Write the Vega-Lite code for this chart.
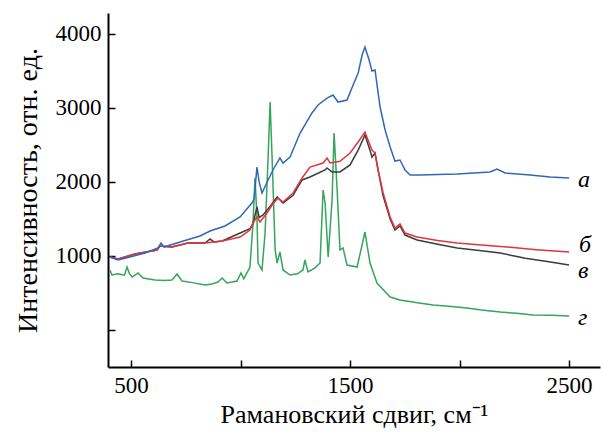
{
  "$schema": "https://vega.github.io/schema/vega-lite/v6.json",
  "width": 492,
  "height": 354,
  "autosize": {"type": "none"},
  "padding": {"left": 108, "top": 13, "right": 1, "bottom": 65},
  "background": "white",
  "config": {
    "view": {"stroke": null},
    "font": "Liberation Serif",
    "axis": {
      "grid": false,
      "domainColor": "black",
      "domainWidth": 2,
      "tickColor": "black",
      "tickWidth": 1.5,
      "tickSize": -7,
      "labelFont": "Liberation Serif",
      "labelFontSize": 23,
      "labelColor": "black",
      "titleFont": "Liberation Serif",
      "titleFontSize": 26,
      "titleFontWeight": "normal",
      "titleColor": "black"
    }
  },
  "datasets": {
    "spectra": [
      {"s": "г", "x": 404, "y": 811}, {"s": "г", "x": 413, "y": 743}, {"s": "г", "x": 440, "y": 760}, {"s": "г", "x": 470, "y": 740}, {"s": "г", "x": 482, "y": 851}, {"s": "г", "x": 493, "y": 760}, {"s": "г", "x": 505, "y": 716}, {"s": "г", "x": 532, "y": 770}, {"s": "г", "x": 555, "y": 702}, {"s": "г", "x": 580, "y": 690}, {"s": "г", "x": 610, "y": 676}, {"s": "г", "x": 650, "y": 670}, {"s": "г", "x": 687, "y": 676}, {"s": "г", "x": 710, "y": 757}, {"s": "г", "x": 733, "y": 662}, {"s": "г", "x": 780, "y": 640}, {"s": "г", "x": 838, "y": 608}, {"s": "г", "x": 870, "y": 620}, {"s": "г", "x": 897, "y": 648}, {"s": "г", "x": 916, "y": 702}, {"s": "г", "x": 938, "y": 635}, {"s": "г", "x": 984, "y": 662}, {"s": "г", "x": 1002, "y": 770}, {"s": "г", "x": 1015, "y": 690}, {"s": "г", "x": 1043, "y": 851}, {"s": "г", "x": 1057, "y": 1446}, {"s": "г", "x": 1066, "y": 2054}, {"s": "г", "x": 1075, "y": 1527}, {"s": "г", "x": 1080, "y": 905}, {"s": "г", "x": 1098, "y": 811}, {"s": "г", "x": 1112, "y": 1310}, {"s": "г", "x": 1126, "y": 2337}, {"s": "г", "x": 1135, "y": 3080}, {"s": "г", "x": 1144, "y": 2337}, {"s": "г", "x": 1158, "y": 1081}, {"s": "г", "x": 1167, "y": 905}, {"s": "г", "x": 1180, "y": 1054}, {"s": "г", "x": 1194, "y": 811}, {"s": "г", "x": 1226, "y": 743}, {"s": "г", "x": 1260, "y": 760}, {"s": "г", "x": 1285, "y": 811}, {"s": "г", "x": 1294, "y": 946}, {"s": "г", "x": 1308, "y": 784}, {"s": "г", "x": 1340, "y": 840}, {"s": "г", "x": 1363, "y": 905}, {"s": "г", "x": 1377, "y": 1891}, {"s": "г", "x": 1386, "y": 1716}, {"s": "г", "x": 1400, "y": 986}, {"s": "г", "x": 1418, "y": 1756}, {"s": "г", "x": 1427, "y": 2661}, {"s": "г", "x": 1441, "y": 1891}, {"s": "г", "x": 1454, "y": 1081}, {"s": "г", "x": 1468, "y": 1108}, {"s": "г", "x": 1486, "y": 878}, {"s": "г", "x": 1532, "y": 851}, {"s": "г", "x": 1555, "y": 1148}, {"s": "г", "x": 1568, "y": 1324}, {"s": "г", "x": 1591, "y": 905}, {"s": "г", "x": 1623, "y": 635}, {"s": "г", "x": 1683, "y": 446}, {"s": "г", "x": 1728, "y": 405}, {"s": "г", "x": 1800, "y": 370}, {"s": "г", "x": 1879, "y": 338}, {"s": "г", "x": 1950, "y": 320}, {"s": "г", "x": 2034, "y": 297}, {"s": "г", "x": 2100, "y": 270}, {"s": "г", "x": 2185, "y": 243}, {"s": "г", "x": 2260, "y": 225}, {"s": "г", "x": 2336, "y": 203}, {"s": "г", "x": 2420, "y": 200}, {"s": "г", "x": 2500, "y": 189},

      {"s": "в", "x": 404, "y": 986}, {"s": "в", "x": 441, "y": 959}, {"s": "в", "x": 518, "y": 1027}, {"s": "в", "x": 619, "y": 1081}, {"s": "в", "x": 632, "y": 1135}, {"s": "в", "x": 687, "y": 1121}, {"s": "в", "x": 760, "y": 1175}, {"s": "в", "x": 838, "y": 1175}, {"s": "в", "x": 861, "y": 1229}, {"s": "в", "x": 880, "y": 1189}, {"s": "в", "x": 916, "y": 1202}, {"s": "в", "x": 998, "y": 1310}, {"s": "в", "x": 1043, "y": 1370}, {"s": "в", "x": 1057, "y": 1432}, {"s": "в", "x": 1075, "y": 1662}, {"s": "в", "x": 1085, "y": 1520}, {"s": "в", "x": 1103, "y": 1554}, {"s": "в", "x": 1140, "y": 1690}, {"s": "в", "x": 1167, "y": 1797}, {"s": "в", "x": 1194, "y": 1716}, {"s": "в", "x": 1240, "y": 1820}, {"s": "в", "x": 1281, "y": 2027}, {"s": "в", "x": 1317, "y": 2067}, {"s": "в", "x": 1386, "y": 2162}, {"s": "в", "x": 1395, "y": 2189}, {"s": "в", "x": 1418, "y": 2135}, {"s": "в", "x": 1454, "y": 2135}, {"s": "в", "x": 1500, "y": 2230}, {"s": "в", "x": 1537, "y": 2430}, {"s": "в", "x": 1568, "y": 2634}, {"s": "в", "x": 1591, "y": 2430}, {"s": "в", "x": 1600, "y": 2337}, {"s": "в", "x": 1614, "y": 2391}, {"s": "в", "x": 1628, "y": 2162}, {"s": "в", "x": 1651, "y": 1810}, {"s": "в", "x": 1683, "y": 1500}, {"s": "в", "x": 1705, "y": 1351}, {"s": "в", "x": 1728, "y": 1405}, {"s": "в", "x": 1751, "y": 1283}, {"s": "в", "x": 1806, "y": 1216}, {"s": "в", "x": 1900, "y": 1160}, {"s": "в", "x": 1989, "y": 1108}, {"s": "в", "x": 2100, "y": 1070}, {"s": "в", "x": 2185, "y": 1040}, {"s": "в", "x": 2300, "y": 970}, {"s": "в", "x": 2400, "y": 925}, {"s": "в", "x": 2500, "y": 878},

      {"s": "б", "x": 404, "y": 986}, {"s": "б", "x": 441, "y": 959}, {"s": "б", "x": 518, "y": 1027}, {"s": "б", "x": 619, "y": 1081}, {"s": "б", "x": 632, "y": 1135}, {"s": "б", "x": 687, "y": 1121}, {"s": "б", "x": 760, "y": 1175}, {"s": "б", "x": 838, "y": 1175}, {"s": "б", "x": 916, "y": 1202}, {"s": "б", "x": 998, "y": 1256}, {"s": "б", "x": 1043, "y": 1351}, {"s": "б", "x": 1057, "y": 1446}, {"s": "б", "x": 1075, "y": 1527}, {"s": "б", "x": 1089, "y": 1459}, {"s": "б", "x": 1121, "y": 1581}, {"s": "б", "x": 1144, "y": 1689}, {"s": "б", "x": 1171, "y": 1783}, {"s": "б", "x": 1194, "y": 1729}, {"s": "б", "x": 1240, "y": 1851}, {"s": "б", "x": 1281, "y": 2054}, {"s": "б", "x": 1317, "y": 2202}, {"s": "б", "x": 1377, "y": 2256}, {"s": "б", "x": 1395, "y": 2324}, {"s": "б", "x": 1409, "y": 2256}, {"s": "б", "x": 1454, "y": 2280}, {"s": "б", "x": 1500, "y": 2391}, {"s": "б", "x": 1537, "y": 2540}, {"s": "б", "x": 1568, "y": 2675}, {"s": "б", "x": 1591, "y": 2499}, {"s": "б", "x": 1600, "y": 2432}, {"s": "б", "x": 1614, "y": 2391}, {"s": "б", "x": 1628, "y": 2162}, {"s": "б", "x": 1651, "y": 1851}, {"s": "б", "x": 1683, "y": 1527}, {"s": "б", "x": 1705, "y": 1378}, {"s": "б", "x": 1728, "y": 1432}, {"s": "б", "x": 1751, "y": 1310}, {"s": "б", "x": 1806, "y": 1256}, {"s": "б", "x": 1900, "y": 1210}, {"s": "б", "x": 1989, "y": 1175}, {"s": "б", "x": 2100, "y": 1150}, {"s": "б", "x": 2217, "y": 1121}, {"s": "б", "x": 2350, "y": 1085}, {"s": "б", "x": 2500, "y": 1054},

      {"s": "а", "x": 404, "y": 986}, {"s": "а", "x": 441, "y": 946}, {"s": "а", "x": 495, "y": 986}, {"s": "а", "x": 564, "y": 1040}, {"s": "а", "x": 623, "y": 1108}, {"s": "а", "x": 637, "y": 1175}, {"s": "а", "x": 651, "y": 1121}, {"s": "а", "x": 724, "y": 1189}, {"s": "а", "x": 815, "y": 1270}, {"s": "а", "x": 861, "y": 1337}, {"s": "а", "x": 929, "y": 1405}, {"s": "а", "x": 998, "y": 1527}, {"s": "а", "x": 1052, "y": 1716}, {"s": "а", "x": 1062, "y": 1770}, {"s": "а", "x": 1075, "y": 2202}, {"s": "а", "x": 1085, "y": 2000}, {"s": "а", "x": 1098, "y": 1851}, {"s": "а", "x": 1126, "y": 2027}, {"s": "а", "x": 1148, "y": 2162}, {"s": "а", "x": 1180, "y": 2324}, {"s": "а", "x": 1194, "y": 2256}, {"s": "а", "x": 1226, "y": 2337}, {"s": "а", "x": 1272, "y": 2661}, {"s": "а", "x": 1326, "y": 2932}, {"s": "а", "x": 1354, "y": 3040}, {"s": "а", "x": 1395, "y": 3134}, {"s": "а", "x": 1422, "y": 3175}, {"s": "а", "x": 1445, "y": 3080}, {"s": "а", "x": 1486, "y": 3107}, {"s": "а", "x": 1514, "y": 3310}, {"s": "а", "x": 1537, "y": 3472}, {"s": "а", "x": 1555, "y": 3715}, {"s": "а", "x": 1568, "y": 3823}, {"s": "а", "x": 1587, "y": 3648}, {"s": "а", "x": 1600, "y": 3499}, {"s": "а", "x": 1614, "y": 3513}, {"s": "а", "x": 1637, "y": 3013}, {"s": "а", "x": 1660, "y": 2702}, {"s": "а", "x": 1683, "y": 2472}, {"s": "а", "x": 1705, "y": 2283}, {"s": "а", "x": 1728, "y": 2297}, {"s": "а", "x": 1751, "y": 2162}, {"s": "а", "x": 1774, "y": 2094}, {"s": "а", "x": 1820, "y": 2094}, {"s": "а", "x": 1900, "y": 2100}, {"s": "а", "x": 1989, "y": 2108}, {"s": "а", "x": 2139, "y": 2135}, {"s": "а", "x": 2171, "y": 2175}, {"s": "а", "x": 2208, "y": 2121}, {"s": "а", "x": 2322, "y": 2094}, {"s": "а", "x": 2413, "y": 2067}, {"s": "а", "x": 2500, "y": 2054}
    ],
    "labels": [
      {"s": "а", "x": 2540, "y": 2030},
      {"s": "б", "x": 2545, "y": 1150},
      {"s": "в", "x": 2540, "y": 800},
      {"s": "г", "x": 2540, "y": 165}
    ]
  },
  "layer": [
    {
      "data": {"name": "spectra"},
      "mark": {"type": "line", "strokeWidth": 1.5, "interpolate": "linear"},
      "encoding": {
        "x": {
          "field": "x", "type": "quantitative",
          "scale": {"domain": [395, 2641], "nice": false, "zero": false},
          "axis": {
            "values": [500, 1000, 1500, 2000, 2500],
            "format": "d",
            "labelExpr": "datum.value == 1000 || datum.value == 2000 ? '' : datum.label",
            "labelPadding": 14,
            "title": "Рамановский сдвиг, см⁻¹",
            "titlePadding": 4
          }
        },
        "y": {
          "field": "y", "type": "quantitative",
          "scale": {"domain": [-500, 4283], "nice": false, "zero": false},
          "axis": {
            "values": [0, 1000, 2000, 3000, 4000],
            "format": "d",
            "labelExpr": "datum.value == 0 ? '' : datum.label",
            "labelPadding": 14,
            "title": "Интенсивность, отн. ед.",
            "titleFontSize": 28,
            "titlePadding": 13
          }
        },
        "color": {
          "field": "s", "type": "nominal",
          "scale": {"domain": ["г", "в", "б", "а"], "range": ["#36a35e", "#3c3c3c", "#e0353d", "#3466b8"]},
          "legend": null
        }
      }
    },
    {
      "data": {"name": "labels"},
      "mark": {"type": "text", "align": "left", "baseline": "middle", "font": "Liberation Serif", "fontStyle": "italic", "fontSize": 24, "color": "black"},
      "encoding": {
        "x": {"field": "x", "type": "quantitative"},
        "y": {"field": "y", "type": "quantitative"},
        "text": {"field": "s"}
      }
    }
  ]
}
